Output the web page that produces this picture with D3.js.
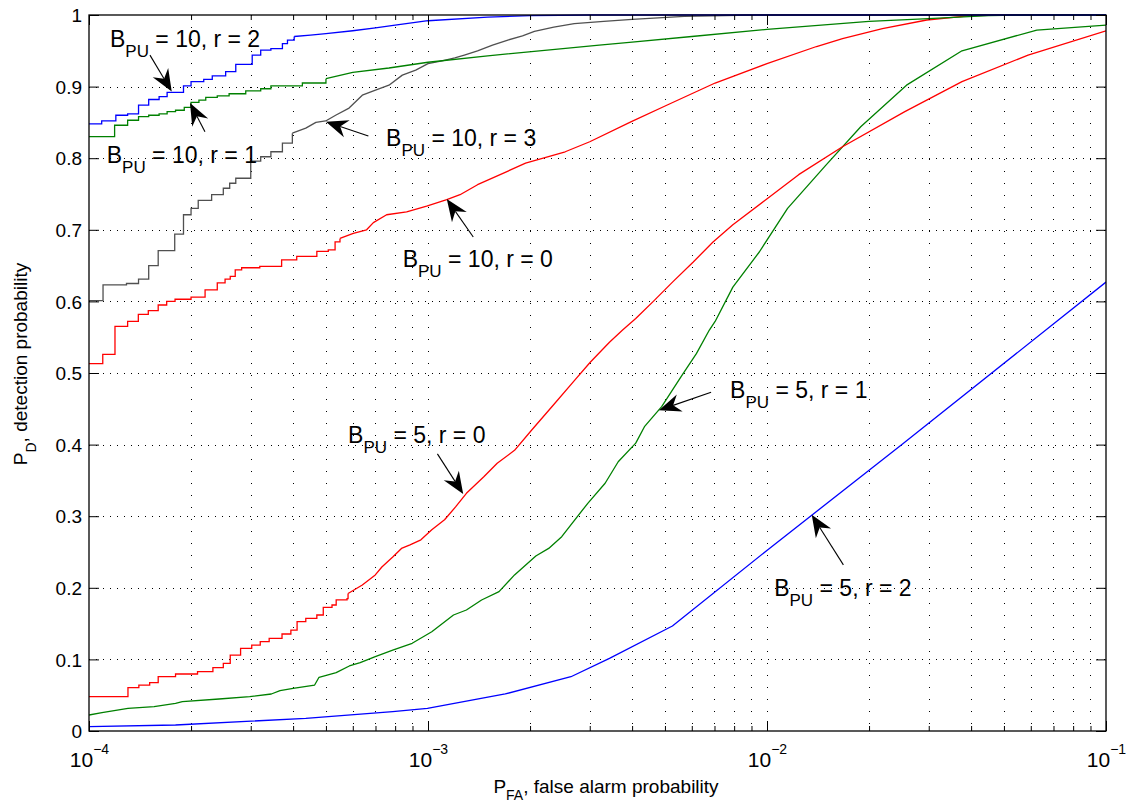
<!DOCTYPE html>
<html>
<head>
<meta charset="utf-8">
<script src="https://cdn.jsdelivr.net/npm/d3@7"></script>
<style>
  body { margin: 0; background: #fff; }
  svg { display: block; font-family: "Liberation Sans", Arial, Helvetica, sans-serif; }
</style>
</head>
<body>
<svg id="chart" width="1128" height="803"></svg>
<script>
// ROC curves, P_D against P_FA
const pfa10r2 = [1e-4, 1.09e-4, 1.2e-4, 1.3e-4, 1.4e-4, 1.5e-4, 1.61e-4, 1.7e-4, 1.9e-4, 2.0e-4, 2.18e-4, 2.31e-4, 2.53e-4, 2.71e-4, 3.03e-4, 3.21e-4, 3.44e-4, 3.72e-4, 3.85e-4, 4.03e-4, 4.5e-4, 5e-4, 6e-4, 7e-4, 8e-4, 1e-3, 1.5e-3, 2e-3, 3e-3, 0.1];
const pd10r2  = [0.848, 0.852, 0.860, 0.862, 0.874, 0.882, 0.886, 0.892, 0.901, 0.907, 0.910, 0.915, 0.921, 0.931, 0.944, 0.951, 0.953, 0.960, 0.965, 0.970, 0.972, 0.974, 0.978, 0.982, 0.986, 0.992, 0.997, 0.999, 1.0, 1.0];

const pfa10r1 = [1e-4, 1.19e-4, 1.3e-4, 1.4e-4, 1.5e-4, 1.61e-4, 1.7e-4, 1.8e-4, 1.91e-4, 2.0e-4, 2.11e-4, 2.21e-4, 2.39e-4, 2.59e-4, 2.9e-4, 3.21e-4, 3.44e-4, 4.26e-4, 5e-4, 6e-4, 7.67e-4, 1e-3, 1.5e-3, 2.5e-3, 3.2e-3, 4e-3, 6e-3, 1e-2, 2e-2, 3e-2, 4.5e-2, 6e-2, 0.1];
const pd10r1  = [0.830, 0.846, 0.853, 0.858, 0.860, 0.862, 0.865, 0.867, 0.871, 0.878, 0.881, 0.885, 0.887, 0.890, 0.894, 0.897, 0.901, 0.905, 0.911, 0.920, 0.926, 0.934, 0.943, 0.953, 0.958, 0.962, 0.970, 0.980, 0.991, 0.995, 0.999, 1.0, 1.0];

const pfa10r3 = [1e-4, 1.1e-4, 1.29e-4, 1.4e-4, 1.5e-4, 1.6e-4, 1.79e-4, 1.9e-4, 2.0e-4, 2.1e-4, 2.3e-4, 2.49e-4, 2.6e-4, 2.71e-4, 3.0e-4, 3.21e-4, 3.44e-4, 3.72e-4, 3.98e-4, 4.36e-4, 4.67e-4, 4.99e-4, 5.34e-4, 5.85e-4, 6.4e-4, 7.0e-4, 7.67e-4, 8.4e-4, 9.2e-4, 1e-3, 1.1e-3, 1.2e-3, 1.28e-3, 1.4e-3, 1.55e-3, 1.72e-3, 1.9e-3, 2.06e-3, 2.35e-3, 2.7e-3, 3.3e-3, 4e-3, 5.7e-3, 9e-3, 0.1];
const pd10r3  = [0.601, 0.623, 0.625, 0.631, 0.650, 0.671, 0.694, 0.721, 0.730, 0.741, 0.749, 0.758, 0.765, 0.772, 0.796, 0.802, 0.809, 0.821, 0.835, 0.842, 0.850, 0.852, 0.860, 0.870, 0.888, 0.895, 0.902, 0.916, 0.923, 0.932, 0.936, 0.940, 0.944, 0.950, 0.958, 0.965, 0.971, 0.977, 0.983, 0.988, 0.991, 0.994, 0.998, 1.0, 1.0];

const pfa10r0 = [1e-4, 1.098e-4, 1.193e-4, 1.3e-4, 1.398e-4, 1.496e-4, 1.6e-4, 1.695e-4, 1.794e-4, 2.0e-4, 2.2e-4, 2.39e-4, 2.52e-4, 2.61e-4, 2.7e-4, 2.82e-4, 3.19e-4, 3.7e-4, 4.1e-4, 4.7e-4, 5.08e-4, 5.32e-4, 5.5e-4, 6.02e-4, 6.59e-4, 6.9e-4, 7.55e-4, 8.65e-4, 9.91e-4, 1.136e-3, 1.243e-3, 1.4e-3, 1.94e-3, 2.54e-3, 3.0e-3, 3.98e-3, 5.06e-3, 7.03e-3, 1.0e-2, 1.4e-2, 1.67e-2, 2.19e-2, 2.96e-2, 3.99e-2, 5e-2, 0.1];
const pd10r0  = [0.513, 0.526, 0.565, 0.572, 0.582, 0.587, 0.595, 0.600, 0.603, 0.606, 0.616, 0.626, 0.631, 0.635, 0.644, 0.647, 0.649, 0.658, 0.663, 0.670, 0.672, 0.683, 0.688, 0.695, 0.700, 0.710, 0.721, 0.725, 0.733, 0.742, 0.749, 0.763, 0.793, 0.809, 0.823, 0.851, 0.874, 0.905, 0.932, 0.956, 0.967, 0.981, 0.993, 0.999, 1.0, 1.0];

const pfa5r0 = [1e-4, 1.303e-4, 1.403e-4, 1.51e-4, 1.6e-4, 1.8e-4, 2.09e-4, 2.32e-4, 2.49e-4, 2.61e-4, 2.8e-4, 3.02e-4, 3.2e-4, 3.4e-4, 3.71e-4, 3.94e-4, 4.11e-4, 4.36e-4, 4.7e-4, 4.91e-4, 5.21e-4, 5.36e-4, 5.77e-4, 5.81e-4, 6.4e-4, 6.99e-4, 7.31e-4, 7.87e-4, 8.35e-4, 8.85e-4, 9.53e-4, 1.026e-3, 1.119e-3, 1.206e-3, 1.298e-3, 1.461e-3, 1.6e-3, 1.8e-3, 2.02e-3, 2.34e-3, 2.71e-3, 3.01e-3, 3.43e-3, 3.75e-3, 4.1e-3, 4.62e-3, 5.29e-3, 6.06e-3, 6.93e-3, 7.93e-3, 9.92e-3, 1.24e-2, 1.67e-2, 2.55e-2, 3.76e-2, 5.89e-2, 0.1];
const pd5r0  = [0.048, 0.0605, 0.064, 0.0675, 0.076, 0.0796, 0.083, 0.0885, 0.0945, 0.106, 0.1155, 0.120, 0.1247, 0.1295, 0.1355, 0.141, 0.1527, 0.1574, 0.162, 0.1727, 0.176, 0.183, 0.185, 0.192, 0.204, 0.218, 0.229, 0.243, 0.255, 0.260, 0.267, 0.281, 0.295, 0.313, 0.332, 0.355, 0.374, 0.392, 0.420, 0.455, 0.490, 0.515, 0.543, 0.560, 0.576, 0.600, 0.628, 0.655, 0.683, 0.707, 0.742, 0.777, 0.816, 0.865, 0.907, 0.944, 0.978];

const pfa5r1 = [1e-4, 1.092e-4, 1.303e-4, 1.556e-4, 1.8e-4, 1.885e-4, 2.42e-4, 2.98e-4, 3.45e-4, 3.66e-4, 4.0e-4, 4.63e-4, 4.77e-4, 5.36e-4, 5.86e-4, 6.31e-4, 6.99e-4, 7.87e-4, 8.98e-4, 1.026e-3, 1.189e-3, 1.298e-3, 1.439e-3, 1.62e-3, 1.8e-3, 2.08e-3, 2.27e-3, 2.48e-3, 2.96e-3, 3.33e-3, 3.64e-3, 4.1e-3, 4.35e-3, 4.89e-3, 5.58e-3, 6.19e-3, 6.76e-3, 7.03e-3, 7.93e-3, 9.49e-3, 1.15e-2, 1.49e-2, 1.89e-2, 2.58e-2, 3.76e-2, 6.25e-2, 0.1];
const pd5r1  = [0.0223, 0.0256, 0.0317, 0.034, 0.0386, 0.041, 0.0447, 0.048, 0.0517, 0.0563, 0.0596, 0.0642, 0.075, 0.0815, 0.0908, 0.0954, 0.104, 0.113, 0.1225, 0.1387, 0.162, 0.169, 0.183, 0.1946, 0.218, 0.2444, 0.255, 0.2714, 0.318, 0.346, 0.376, 0.402, 0.425, 0.453, 0.495, 0.527, 0.560, 0.572, 0.620, 0.669, 0.730, 0.790, 0.844, 0.902, 0.950, 0.979, 0.986];

const pfa5r2 = [1e-4, 1.8e-4, 4.36e-4, 7.87e-4, 9.96e-4, 1.69e-3, 2.64e-3, 3.43e-3, 5.26e-3, 1.01e-2, 2.5e-2, 0.1];
const pd5r2  = [0.006, 0.0084, 0.0177, 0.027, 0.0317, 0.0517, 0.0758, 0.1015, 0.1466, 0.254, 0.400, 0.627];

// axis ticks
const yTicks = [0, 0.1, 0.2, 0.3, 0.4, 0.5, 0.6, 0.7, 0.8, 0.9, 1];
const yTickLabels = ["0", "0.1", "0.2", "0.3", "0.4", "0.5", "0.6", "0.7", "0.8", "0.9", "1"];
const xTicks = [1e-4, 1e-3, 1e-2, 1e-1];
const xTickExps = ["\u22124", "\u22123", "\u22122", "\u22121"];

// annotations: label text, text anchor, arrow tail and tip (data coords)
const annotLabels = [" = 10, r = 2", " = 10, r = 1", " = 10, r = 3", " = 10, r = 0", " = 5, r = 0", " = 5, r = 1", " = 5, r = 2"];
const annotTextAt = [[1.153e-4, 0.955], [1.128e-4, 0.793], [7.52e-4, 0.817], [8.42e-4, 0.648], [5.81e-4, 0.402], [7.78e-3, 0.465], [1.05e-2, 0.188]];
const annotTail = [[1.513e-4, 0.944], [2.198e-4, 0.837], [6.67e-4, 0.831], [1.36e-3, 0.690], [1.066e-3, 0.387], [6.84e-3, 0.473], [1.68e-2, 0.232]];
const annotTip = [[1.754e-4, 0.893], [1.986e-4, 0.877], [5.0e-4, 0.851], [1.136e-3, 0.743], [1.27e-3, 0.331], [4.80e-3, 0.448], [1.355e-2, 0.302]];

const series = [
  {pfa: pfa5r2, pd: pd5r2, color: "#0000ff", stepEnd: 0},
  {pfa: pfa5r1, pd: pd5r1, color: "#008000", stepEnd: 0},
  {pfa: pfa5r0, pd: pd5r0, color: "#ff0000", stepEnd: 5.81e-4},
  {pfa: pfa10r0, pd: pd10r0, color: "#ff0000", stepEnd: 5.5e-4},
  {pfa: pfa10r3, pd: pd10r3, color: "#505050", stepEnd: 3.98e-4},
  {pfa: pfa10r1, pd: pd10r1, color: "#008000", stepEnd: 5e-4},
  {pfa: pfa10r2, pd: pd10r2, color: "#0000ff", stepEnd: 4.03e-4}
];

const plotL = 89, plotR = 1106, plotT = 15, plotB = 731;
const svg = d3.select("#chart");
svg.append("rect").attr("width", 1128).attr("height", 803).attr("fill", "#fff");

const x = d3.scaleLog().domain([1e-4, 1e-1]).range([plotL, plotR]);
const y = d3.scaleLinear().domain([0, 1]).range([plotB, plotT]);

// minor ticks 2..9 in every decade
const xMinor = [];
xTicks.slice(0, -1).forEach(d => { for (let k = 2; k <= 9; k++) xMinor.push(k * d); });

// grid
const grid = svg.append("g").attr("stroke", "#000").attr("stroke-width", 1)
  .attr("shape-rendering", "crispEdges");
grid.selectAll(".gh").data(yTicks.slice(1, -1)).enter().append("line")
  .attr("x1", plotL).attr("x2", plotR)
  .attr("y1", d => Math.round(y(d)) + 0.5).attr("y2", d => Math.round(y(d)) + 0.5)
  .attr("stroke-dasharray", "1,6");
grid.selectAll(".gv").data(xMinor.concat(xTicks.slice(1, -1))).enter().append("line")
  .attr("y1", plotT).attr("y2", plotB)
  .attr("x1", d => Math.round(x(d)) + 0.5).attr("x2", d => Math.round(x(d)) + 0.5)
  .attr("stroke-dasharray", "1,11");

// curves
svg.append("clipPath").attr("id", "plotclip").append("rect")
  .attr("x", plotL).attr("y", plotT - 2).attr("width", plotR - plotL).attr("height", plotB - plotT + 4);
const curves = svg.append("g").attr("clip-path", "url(#plotclip)");
const stepLine = d3.line().x(d => x(d[0])).y(d => y(d[1])).curve(d3.curveStepAfter);
const lin = d3.line().x(d => x(d[0])).y(d => y(d[1]));

series.forEach(s => {
  const pts = s.pfa.map((v, i) => [v, s.pd[i]]);
  const k = pts.findIndex(p => p[0] > s.stepEnd);
  const stepPts = k < 0 ? pts : pts.slice(0, k);
  const linPts = k < 0 ? [] : pts.slice(Math.max(k - 1, 0));
  if (stepPts.length > 1)
    curves.append("path").attr("d", stepLine(stepPts)).attr("fill", "none")
      .attr("stroke", s.color).attr("stroke-width", 1.3);
  if (linPts.length > 1)
    curves.append("path").attr("d", lin(linPts)).attr("fill", "none")
      .attr("stroke", s.color).attr("stroke-width", 1.3).attr("stroke-linejoin", "round");
});

// axes (MATLAB style: inward ticks on all four sides)
function styleAxis(g) {
  g.attr("font-family", null).attr("font-size", null);
  g.selectAll("line").attr("stroke", "#000");
  g.select(".domain").remove();
}
svg.append("g").attr("transform", `translate(${plotL},0)`)
  .call(d3.axisLeft(y).tickValues(yTicks).tickSize(-10).tickPadding(7)
    .tickFormat((d, i) => yTickLabels[i]))
  .call(styleAxis)
  .selectAll("text").attr("font-size", 19).attr("fill", "#000").attr("dy", "0.35em");
svg.append("g").attr("transform", `translate(${plotR},0)`)
  .call(d3.axisRight(y).tickValues(yTicks).tickSize(-10).tickFormat(""))
  .call(styleAxis);

const xb = svg.append("g").attr("transform", `translate(0,${plotB})`)
  .call(d3.axisBottom(x).tickValues(xTicks).tickSize(-10).tickFormat(""))
  .call(styleAxis);
xb.selectAll(".tick text").each(function (d, i) {
  const t = d3.select(this).attr("y", 36).attr("dy", 0).attr("font-size", 21)
    .attr("fill", "#000").attr("text-anchor", "middle");
  t.append("tspan").text("10");
  t.append("tspan").attr("font-size", 14).attr("dy", -13).text(xTickExps[i]);
});
svg.append("g").attr("transform", `translate(0,${plotB})`)
  .call(d3.axisBottom(x).tickValues(xMinor).tickSize(-5).tickFormat(""))
  .call(styleAxis);
svg.append("g").attr("transform", `translate(0,${plotT})`)
  .call(d3.axisTop(x).tickValues(xTicks).tickSize(-10).tickFormat(""))
  .call(styleAxis);
svg.append("g").attr("transform", `translate(0,${plotT})`)
  .call(d3.axisTop(x).tickValues(xMinor).tickSize(-5).tickFormat(""))
  .call(styleAxis);

svg.append("rect").attr("x", plotL).attr("y", plotT)
  .attr("width", plotR - plotL).attr("height", plotB - plotT)
  .attr("fill", "none").attr("stroke", "#000").attr("stroke-width", 1.3);

// axis labels
const xl = svg.append("text").attr("x", 606).attr("y", 793)
  .attr("text-anchor", "middle").attr("font-size", 19).attr("fill", "#000");
xl.append("tspan").text("P");
xl.append("tspan").attr("font-size", 14).attr("dy", 7).text("FA");
xl.append("tspan").attr("dy", -7).text(", false alarm probability");

const yl = svg.append("text").attr("transform", "translate(27,364) rotate(-90)")
  .attr("text-anchor", "middle").attr("font-size", 19).attr("fill", "#000");
yl.append("tspan").text("P");
yl.append("tspan").attr("font-size", 14).attr("dy", 9).text("D");
yl.append("tspan").attr("dy", -9).text(", detection probability");

// annotations with arrows
const ann = svg.append("g");
annotLabels.forEach((lab, i) => {
  const t = ann.append("text").attr("x", x(annotTextAt[i][0])).attr("y", y(annotTextAt[i][1]))
    .attr("font-size", 23).attr("fill", "#000");
  t.append("tspan").text("B");
  t.append("tspan").attr("font-size", 17).attr("dy", 10).text("PU");
  t.append("tspan").attr("dy", -10).text(lab);

  const tx = x(annotTail[i][0]), ty = y(annotTail[i][1]);
  const px = x(annotTip[i][0]), py = y(annotTip[i][1]);
  const len = Math.hypot(px - tx, py - ty), ux = (px - tx) / len, uy = (py - ty) / len;
  const L = 22, Wd = 9, N = 7;
  const bx = px - L * ux, by = py - L * uy;
  const nx = px - (L - N) * ux, ny = py - (L - N) * uy;
  ann.append("line").attr("x1", tx).attr("y1", ty).attr("x2", nx).attr("y2", ny)
    .attr("stroke", "#000").attr("stroke-width", 1.1);
  ann.append("path")
    .attr("d", `M${px},${py}L${bx - Wd * uy},${by + Wd * ux}L${nx},${ny}L${bx + Wd * uy},${by - Wd * ux}Z`)
    .attr("fill", "#000");
});
</script>
</body>
</html>
